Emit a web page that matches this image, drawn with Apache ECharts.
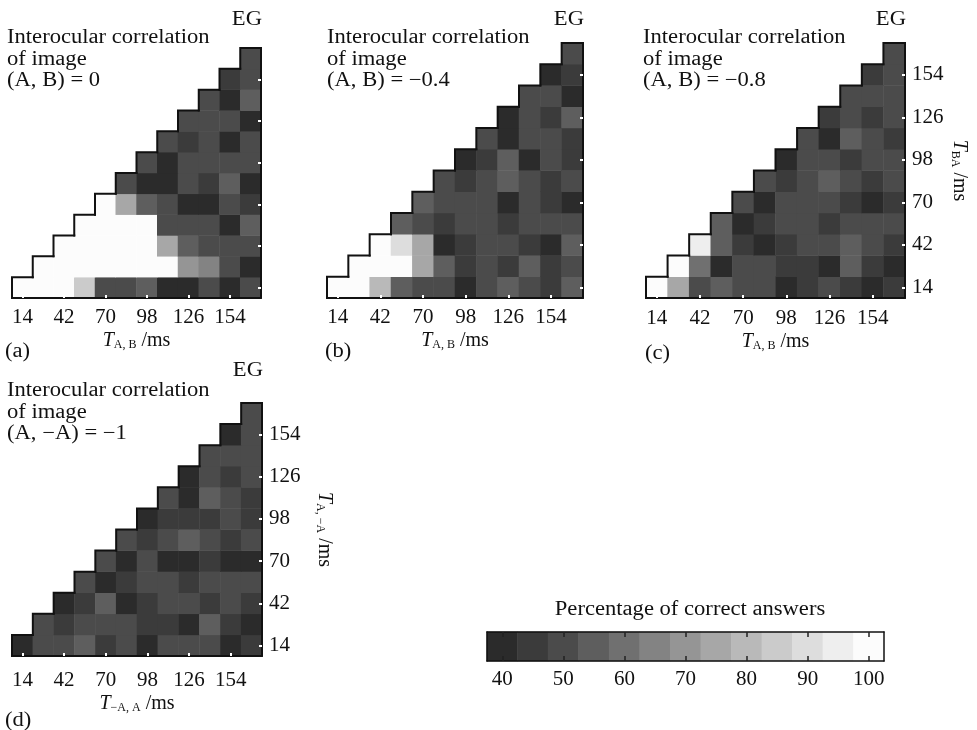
<!DOCTYPE html>
<html><head><meta charset="utf-8">
<script src="https://cdn.jsdelivr.net/npm/echarts@6/dist/echarts.min.js"></script>
<style>html,body{margin:0;padding:0;background:#fff}#c{width:977px;height:730px}</style>
</head><body><div id="c"></div>
<script>
// ---- data ----
const delays = [14, 28, 42, 56, 70, 84, 98, 112, 126, 140, 154, 168];
const binCenters = [40, 45, 50, 55, 60, 65, 70, 75, 80, 85, 90, 95, 100];
// rows from bottom (row j holds columns j..11)
const panelA = [
  [100,100,100,83,50,50,57,40,40,50,40,50],
  [100,100,100,100,100,100,100,68,65,50,40],
  [100,100,100,100,100,73,57,50,50,50],
  [100,100,100,100,50,50,50,40,57],
  [100,73,57,50,40,40,50,45],
  [50,40,40,50,45,57,40],
  [50,40,50,50,50,50],
  [50,45,50,40,50],
  [50,50,50,40],
  [50,40,57],
  [45,50],
  [50]
];
const panelB = [
  [100,100,82,55,50,50,40,50,55,50,45,55],
  [100,100,100,73,57,45,50,45,57,45,50],
  [100,88,73,40,45,50,50,45,40,57],
  [57,50,45,50,50,45,50,50,50],
  [55,50,50,50,40,50,45,40],
  [50,45,50,55,50,45,50],
  [40,45,55,40,50,45],
  [50,40,50,50,45],
  [40,50,45,57],
  [50,50,40],
  [40,45],
  [50]
];
const panelC = [
  [100,75,50,55,50,50,40,45,50,45,40,45],
  [100,60,40,50,50,45,45,40,57,45,40],
  [95,55,45,40,45,50,50,57,50,45],
  [55,40,45,50,50,45,50,50,50],
  [50,40,50,50,50,45,40,45],
  [50,45,50,57,50,45,50],
  [40,50,50,45,50,50],
  [50,40,57,50,45],
  [45,50,45,50],
  [50,50,50],
  [45,50],
  [50]
];
const panelD = [
  [40,50,50,55,45,50,40,50,50,50,40,45],
  [50,45,50,50,50,45,45,40,57,45,40],
  [40,45,57,40,45,50,50,45,50,45],
  [50,40,45,50,50,45,50,50,50],
  [50,40,50,40,40,45,40,40],
  [50,45,50,57,50,45,50],
  [40,45,45,45,50,45],
  [50,40,57,50,45],
  [40,50,45,50],
  [50,50,50],
  [40,50],
  [50]
];
const titles = ['(A, B) = 0', '(A, B) = \u22120.4', '(A, B) = \u22120.8', '(A, \u2212A) = \u22121'];
const tags = ['(a)', '(b)', '(c)', '(d)'];
const xSubs = ['A, B', 'A, B', 'A, B', '\u2212A, A'];
const ySubs = [null, null, 'BA', 'A, \u2212A'];
const colorbarTitle = 'Percentage of correct answers';

// ---- style / layout ----
const FONT = 'Liberation Serif';
const SX = 1.13;
const binColors = ['#2b2b2b','#3b3b3b','#4b4b4b','#5e5e5e','#707070','#838383','#959595',
                   '#a7a7a7','#b9b9b9','#cbcbcb','#dddddd','#eeeeee','#fcfcfc'];
const grids = [
  {left: 12, top: 48, width: 249, height: 250},
  {left: 327, top: 43, width: 256, height: 255},
  {left: 646, top: 43, width: 259, height: 255},
  {left: 12, top: 403, width: 250, height: 253},
  {left: 487, top: 632, width: 397, height: 29}
];
const xLabelMargin = [9, 9, 10, 14];
const xNameGap = [24, 30, 30, 29];
const yNameGap = [0, 0, 44, 52];
const titleTop = [27, 27, 27, 380];
const titleLeft = [7, 327, 643, 7];
const egTop = [20, 20, 20, 371];
const tagPos = [[5, 352], [325, 352], [645, 354], [5, 721]];

const rich = {
  t: {fontFamily: FONT, fontStyle: 'italic', fontSize: 20, lineHeight: 20, verticalAlign: 'top', color: '#111'},
  s: {fontFamily: FONT, fontSize: 12, lineHeight: 12, verticalAlign: 'bottom', padding: [10, 0, 0, 0], color: '#111'},
  u: {fontFamily: FONT, fontSize: 20, lineHeight: 20, verticalAlign: 'top', color: '#111'}
};
const axName = sub => '{t|T}{s|' + sub + '}{u| /ms}';

const panels = [panelA, panelB, panelC, panelD];
const cats = delays.map(String);

const xAxes = [], yAxes = [], series = [], graphics = [];
panels.forEach((rows, i) => {
  xAxes.push({
    type: 'category', gridIndex: i, data: cats, position: 'bottom', z: 10,
    axisLine: {show: true, lineStyle: {color: '#111', width: 2}},
    axisTick: {show: true, inside: true, length: 3, alignWithLabel: true, lineStyle: {color: '#fff', width: 2}},
    axisLabel: {interval: 1, margin: xLabelMargin[i], fontFamily: FONT, fontSize: 21, color: '#111'},
    splitLine: {show: false},
    name: axName(xSubs[i]), nameLocation: 'middle', nameGap: xNameGap[i],
    nameTextStyle: {rich: rich}
  });
  const yA = {
    type: 'category', gridIndex: i, data: cats, position: 'right', z: 10,
    axisLine: {show: true, lineStyle: {color: '#111', width: 2}},
    axisTick: {show: true, inside: true, length: 3, alignWithLabel: true, lineStyle: {color: '#fff', width: 2}},
    axisLabel: {show: !!ySubs[i], interval: 1, margin: 7, fontFamily: FONT, fontSize: 21, color: '#111'},
    splitLine: {show: false}
  };
  if (ySubs[i]) {
    yA.name = axName(ySubs[i]);
    yA.nameLocation = 'middle';
    yA.nameGap = yNameGap[i];
    yA.nameRotate = -90;
    yA.nameTextStyle = {rich: rich};
  }
  yAxes.push(yA);

  const data = [];
  rows.forEach((row, j) => row.forEach((v, k) => data.push([j + k, j, v])));
  series.push({
    type: 'heatmap', xAxisIndex: i, yAxisIndex: i, data: data,
    itemStyle: {borderWidth: 0}, emphasis: {disabled: true}
  });
  series.push({
    type: 'custom', xAxisIndex: i, yAxisIndex: i, z: 5, silent: true,
    data: rows.map((r, j) => [j, j]),
    renderItem: function (params, api) {
      const c = api.coord([api.value(0), api.value(1)]);
      const s = api.size([1, 1]);
      const l = c[0] - s[0] / 2, r = c[0] + s[0] / 2, t = c[1] - s[1] / 2, b = c[1] + s[1] / 2;
      return {type: 'polyline', shape: {points: [[l, b], [l, t], [r, t]]},
              style: {stroke: '#111', lineWidth: 2, fill: null, lineCap: 'square'}};
    }
  });

  const g = grids[i];
  graphics.push({type: 'text', x: titleLeft[i], y: titleTop[i], scaleX: SX,
    style: {text: 'Interocular correlation\nof image\n' + titles[i], fontFamily: FONT, fontSize: 20,
            lineHeight: 21.5, fill: '#111', verticalAlign: 'top', align: 'left'}});
  graphics.push({type: 'text', x: g.left + g.width + 1, y: egTop[i], scaleX: SX,
    style: {text: 'EG', fontFamily: FONT, fontSize: 20, fill: '#111', verticalAlign: 'middle', align: 'right'}});
  graphics.push({type: 'text', x: tagPos[i][0], y: tagPos[i][1], scaleX: SX,
    style: {text: tags[i], fontFamily: FONT, fontSize: 20, fill: '#111', verticalAlign: 'middle', align: 'left'}});
});

// colorbar
const cbCats = binCenters.map(String);
const cbLine = {show: true, lineStyle: {color: '#111', width: 1.5}};
xAxes.push({
  type: 'category', gridIndex: 4, data: cbCats, position: 'bottom', z: 10,
  axisLine: cbLine,
  axisTick: {show: true, inside: true, length: 5, interval: 1, alignWithLabel: true, lineStyle: {color: '#222', width: 1.5}},
  axisLabel: {interval: 1, margin: 8, fontFamily: FONT, fontSize: 21, color: '#111'}
});
xAxes.push({
  type: 'category', gridIndex: 4, data: cbCats, position: 'top', z: 10,
  axisLine: cbLine,
  axisTick: {show: true, inside: true, length: 5, interval: 1, alignWithLabel: true, lineStyle: {color: '#222', width: 1.5}},
  axisLabel: {show: false}
});
yAxes.push({type: 'category', gridIndex: 4, data: [''], position: 'left', z: 10, axisLine: cbLine, axisTick: {show: false}, axisLabel: {show: false}});
yAxes.push({type: 'category', gridIndex: 4, data: [''], position: 'right', z: 10, axisLine: cbLine, axisTick: {show: false}, axisLabel: {show: false}});
series.push({
  type: 'heatmap', xAxisIndex: 4, yAxisIndex: 4,
  data: binCenters.map((v, i) => [i, 0, v]),
  itemStyle: {borderWidth: 0}, emphasis: {disabled: true}
});
graphics.push({type: 'text', x: 690, y: 610, scaleX: SX,
  style: {text: colorbarTitle, fontFamily: FONT, fontSize: 20, fill: '#111', align: 'center', verticalAlign: 'middle'}});

const heatmapIdx = series.map((s, i) => s.type === 'heatmap' ? i : -1).filter(i => i >= 0);

const chart = echarts.init(document.getElementById('c'), null, {renderer: 'canvas'});
chart.setOption({
  backgroundColor: '#fff',
  animation: false,
  grid: grids.map(g => Object.assign({containLabel: false}, g)),
  xAxis: xAxes,
  yAxis: yAxes,
  visualMap: {
    type: 'piecewise', show: false, seriesIndex: heatmapIdx, dimension: 2,
    pieces: binCenters.map((c, i) => ({gte: c - 2.5, lt: c + 2.5, color: binColors[i]}))
  },
  series: series,
  graphic: graphics
});
</script>
</body></html>
